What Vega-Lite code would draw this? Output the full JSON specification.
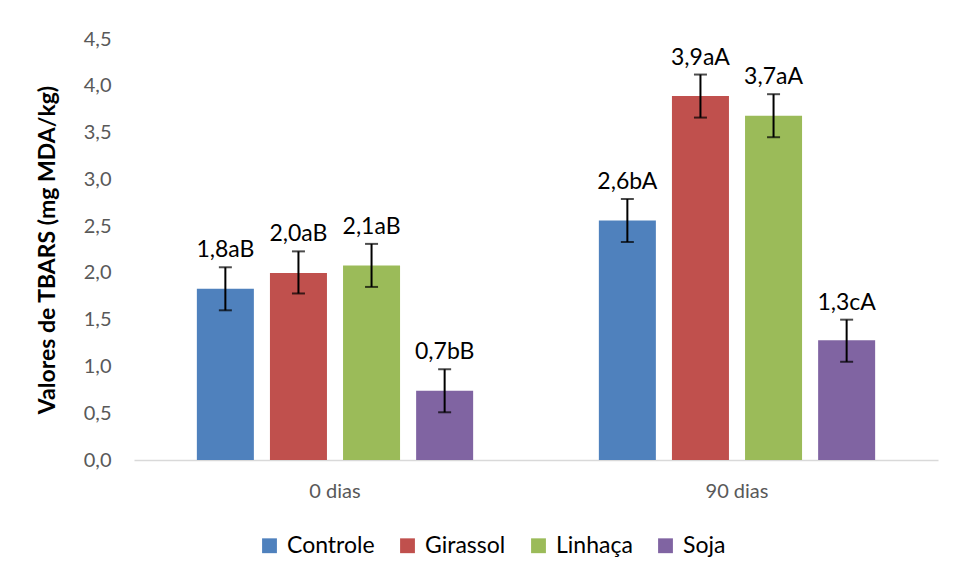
{
  "$schema": "https://vega.github.io/schema/vega-lite/v6.json",
  "autosize": {"type": "none"},
  "width": 804,
  "height": 421,
  "padding": {"left": 134, "top": 39, "right": 15, "bottom": 119},
  "background": "white",
  "config": {
    "font": "Lato",
    "view": {"stroke": null}
  },
  "data": {
    "values": [
      {"tempo": "0 dias", "oleo": "Controle", "valor": 1.83, "lo": 1.60, "hi": 2.06, "rotulo": "1,8aB"},
      {"tempo": "0 dias", "oleo": "Girassol", "valor": 2.00, "lo": 1.78, "hi": 2.23, "rotulo": "2,0aB"},
      {"tempo": "0 dias", "oleo": "Linhaça", "valor": 2.08, "lo": 1.85, "hi": 2.31, "rotulo": "2,1aB"},
      {"tempo": "0 dias", "oleo": "Soja", "valor": 0.74, "lo": 0.51, "hi": 0.97, "rotulo": "0,7bB"},
      {"tempo": "90 dias", "oleo": "Controle", "valor": 2.56, "lo": 2.33, "hi": 2.79, "rotulo": "2,6bA"},
      {"tempo": "90 dias", "oleo": "Girassol", "valor": 3.89, "lo": 3.66, "hi": 4.12, "rotulo": "3,9aA"},
      {"tempo": "90 dias", "oleo": "Linhaça", "valor": 3.68, "lo": 3.45, "hi": 3.91, "rotulo": "3,7aA"},
      {"tempo": "90 dias", "oleo": "Soja", "valor": 1.28, "lo": 1.05, "hi": 1.50, "rotulo": "1,3cA"}
    ]
  },
  "encoding": {
    "x": {
      "field": "tempo", "type": "nominal", "sort": ["0 dias", "90 dias"],
      "scale": {"paddingInner": 0, "paddingOuter": 0},
      "axis": {
        "title": null, "labelAngle": 0, "ticks": false, "domain": true,
        "domainColor": "#d9d9d9", "domainWidth": 1.5,
        "labelFontSize": 20, "labelColor": "#595959", "labelPadding": 21
      }
    },
    "xOffset": {
      "field": "oleo", "type": "nominal", "sort": ["Controle", "Girassol", "Linhaça", "Soja"],
      "scale": {"paddingInner": 0.22, "paddingOuter": 0.86}
    }
  },
  "layer": [
    {
      "mark": {"type": "bar"},
      "encoding": {
        "y": {
          "field": "valor", "type": "quantitative",
          "scale": {"domain": [0, 4.5], "nice": false},
          "axis": {
            "values": [0, 0.5, 1, 1.5, 2, 2.5, 3, 3.5, 4, 4.5],
            "labelExpr": "replace(format(datum.value, '.1f'), '.', ',')",
            "grid": false, "domain": false, "ticks": false,
            "labelFontSize": 20, "labelColor": "#595959", "labelPadding": 23,
            "title": "Valores de TBARS (mg MDA/kg)",
            "titleFontSize": 23, "titleFontWeight": "bold", "titleColor": "#000000",
            "titlePadding": 24
          }
        },
        "color": {
          "field": "oleo", "type": "nominal",
          "sort": ["Controle", "Girassol", "Linhaça", "Soja"],
          "scale": {
            "domain": ["Controle", "Girassol", "Linhaça", "Soja"],
            "range": ["#4F81BD", "#C0504D", "#9BBB59", "#8064A2"]
          },
          "legend": {
            "title": null, "orient": "none", "direction": "horizontal",
            "legendX": 124, "legendY": 495,
            "symbolType": "square", "symbolSize": 220, "symbolStrokeWidth": 0,
            "labelFontSize": 23, "labelColor": "#000000", "columnPadding": 21,
            "labelOffset": 6
          }
        }
      }
    },
    {
      "mark": {"type": "rule", "color": "black", "strokeWidth": 2},
      "encoding": {
        "y": {"field": "lo", "type": "quantitative"},
        "y2": {"field": "hi"}
      }
    },
    {
      "mark": {"type": "tick", "color": "black", "thickness": 2, "size": 13, "orient": "horizontal"},
      "encoding": {"y": {"field": "lo", "type": "quantitative"}}
    },
    {
      "mark": {"type": "tick", "color": "black", "thickness": 2, "size": 13, "orient": "horizontal"},
      "encoding": {"y": {"field": "hi", "type": "quantitative"}}
    },
    {
      "mark": {"type": "text", "baseline": "bottom", "dy": -5, "fontSize": 23, "color": "black"},
      "encoding": {
        "y": {"field": "hi", "type": "quantitative"},
        "text": {"field": "rotulo"}
      }
    }
  ]
}
